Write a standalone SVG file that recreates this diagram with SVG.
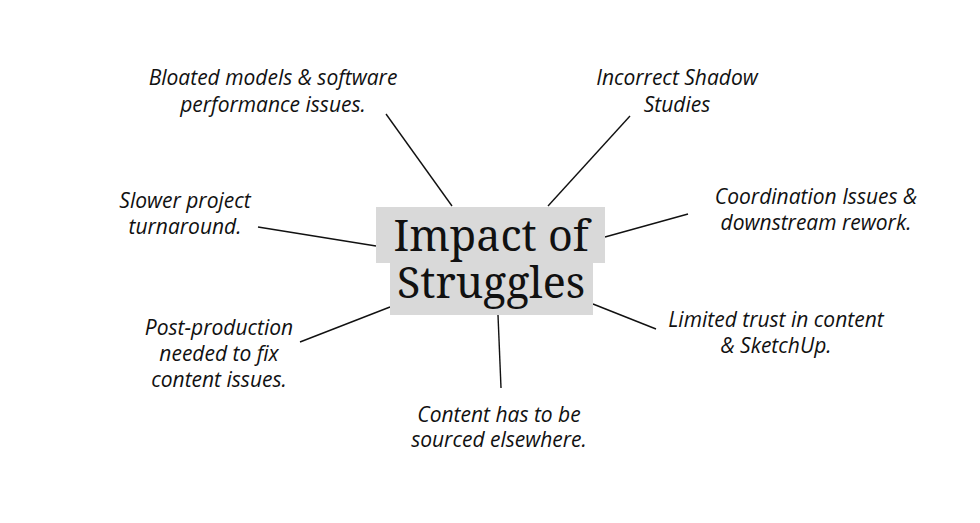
<svg xmlns="http://www.w3.org/2000/svg" width="980" height="523" viewBox="0 0 980 523">
<style>
.lbl{font-family:"Open Sans","Noto Sans","DejaVu Sans",sans-serif;font-style:italic;font-size:21px;fill:#111;text-anchor:middle}
.ttl{font-family:"Noto Serif","DejaVu Serif","Liberation Serif",serif;font-size:43px;fill:#111;text-anchor:middle}
.box{fill:#d9d9d9}
.con line{stroke:#111;stroke-width:1.4}
</style>
<rect width="980" height="523" fill="#fff"/>
<g id="connectors" class="con">
<line x1="386" y1="114" x2="452" y2="206"/>
<line x1="630" y1="116" x2="548" y2="206"/>
<line x1="258" y1="227" x2="376" y2="246"/>
<line x1="688" y1="214" x2="605" y2="237"/>
<line x1="300" y1="342" x2="390" y2="307"/>
<line x1="498" y1="315" x2="501" y2="388"/>
<line x1="593" y1="304" x2="656" y2="329"/>
</g>
<g id="center">
<rect class="box" x="376" y="207" width="229" height="56"/>
<rect class="box" x="390" y="262" width="203" height="53"/>
<text class="ttl" x="491" y="251">Impact of</text>
<text class="ttl" x="491" y="298">Struggles</text>
</g>
<g id="n-bloated"><text class="lbl" x="273" y="85">Bloated models &amp; software</text><text class="lbl" x="273" y="112">performance issues.</text></g>
<g id="n-shadow"><text class="lbl" x="677" y="85">Incorrect Shadow</text><text class="lbl" x="677" y="112">Studies</text></g>
<g id="n-coord"><text class="lbl" x="816" y="204">Coordination Issues &amp;</text><text class="lbl" x="816" y="230">downstream rework.</text></g>
<g id="n-slower"><text class="lbl" x="185" y="208">Slower project</text><text class="lbl" x="185" y="234">turnaround.</text></g>
<g id="n-post"><text class="lbl" x="219" y="335">Post-production</text><text class="lbl" x="219" y="361">needed to fix</text><text class="lbl" x="219" y="387">content issues.</text></g>
<g id="n-content"><text class="lbl" x="499" y="422">Content has to be</text><text class="lbl" x="499" y="447">sourced elsewhere.</text></g>
<g id="n-trust"><text class="lbl" x="776" y="327">Limited trust in content</text><text class="lbl" x="776" y="353">&amp; SketchUp.</text></g>
</svg>
